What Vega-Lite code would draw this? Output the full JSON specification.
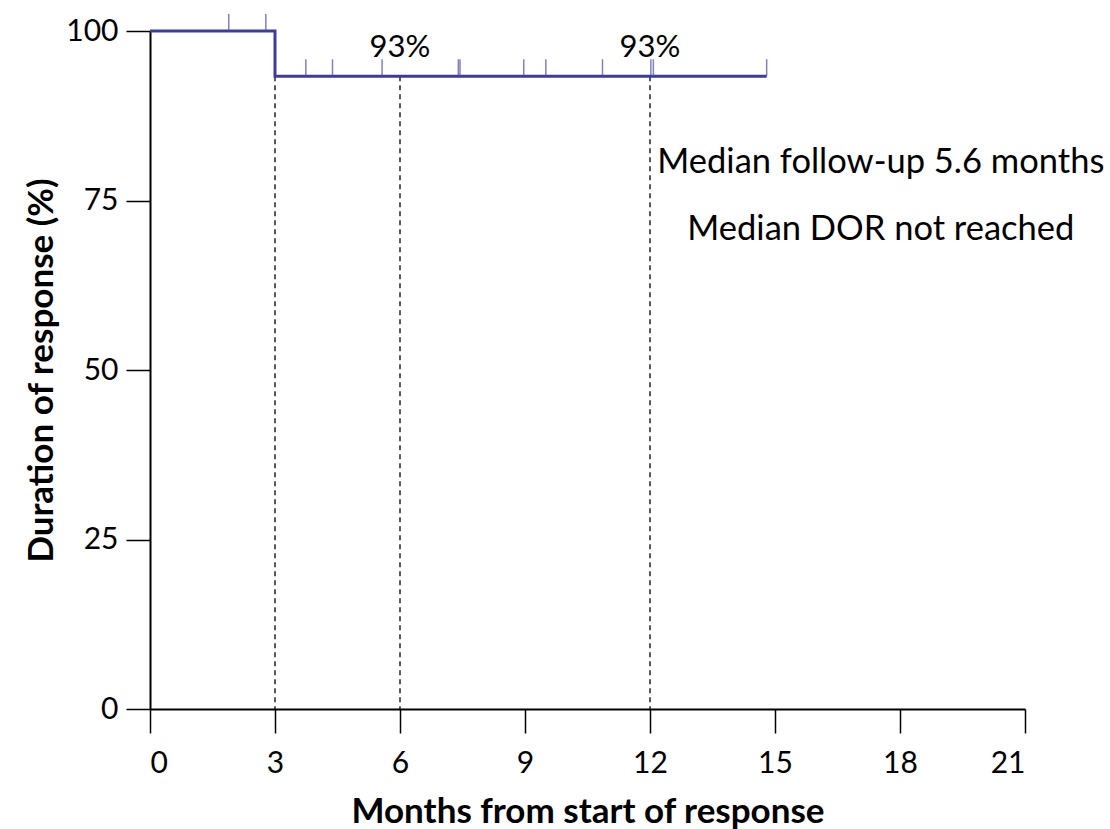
{
  "$schema": "https://vega.github.io/schema/vega-lite/v6.json",
  "width": 875,
  "height": 678,
  "autosize": {"type": "none"},
  "padding": {"left": 150, "top": 31, "right": 85, "bottom": 120},
  "background": "white",
  "config": {
    "view": {"stroke": null},
    "font": "Lato",
    "axis": {
      "grid": false,
      "domainColor": "black",
      "domainWidth": 2,
      "tickColor": "black",
      "tickWidth": 1.5,
      "tickSize": 24,
      "labelFont": "Lato",
      "labelFontSize": 30,
      "labelColor": "black",
      "titleFont": "Lato",
      "titleFontSize": 35,
      "titleFontWeight": "bold",
      "titleColor": "black"
    }
  },
  "datasets": {
    "km": [
      {"t": 0, "s": 100},
      {"t": 3, "s": 93.33},
      {"t": 14.8, "s": 93.33}
    ],
    "censor": [
      {"t": 1.89, "s": 100},
      {"t": 2.78, "s": 100},
      {"t": 3.74, "s": 93.33},
      {"t": 4.38, "s": 93.33},
      {"t": 5.57, "s": 93.33},
      {"t": 7.40, "s": 93.33},
      {"t": 7.44, "s": 93.33},
      {"t": 8.97, "s": 93.33},
      {"t": 9.50, "s": 93.33},
      {"t": 10.86, "s": 93.33},
      {"t": 12.02, "s": 93.33},
      {"t": 12.08, "s": 93.33},
      {"t": 14.8, "s": 93.33}
    ],
    "refs": [
      {"t": 3, "s": 93.33},
      {"t": 6, "s": 93.33},
      {"t": 12, "s": 93.33}
    ],
    "pct": [
      {"t": 6, "s": 93.33, "label": "93%"},
      {"t": 12, "s": 93.33, "label": "93%"}
    ],
    "notes": [
      {"t": 17.54, "s": 80.5, "label": "Median follow-up 5.6 months"},
      {"t": 17.54, "s": 70.6, "label": "Median DOR not reached"}
    ]
  },
  "layer": [
    {
      "data": {"name": "refs"},
      "mark": {"type": "rule", "color": "black", "strokeWidth": 1.3, "strokeDash": [5, 4]},
      "encoding": {
        "x": {"field": "t", "type": "quantitative", "scale": {"domain": [0, 21], "nice": false},
              "axis": {"values": [0, 3, 6, 9, 12, 15, 18, 21], "title": "Months from start of response", "labelPadding": 15, "titlePadding": 16}},
        "y": {"field": "s", "type": "quantitative", "scale": {"domain": [0, 100], "nice": false},
              "axis": {"values": [0, 25, 50, 75, 100], "title": "Duration of response (%)", "labelPadding": 8, "titlePadding": 6}},
        "y2": {"datum": 0}
      }
    },
    {
      "data": {"name": "km"},
      "mark": {"type": "line", "interpolate": "step-after", "color": "#3c3c9e", "strokeWidth": 3, "clip": false},
      "encoding": {
        "x": {"field": "t", "type": "quantitative"},
        "y": {"field": "s", "type": "quantitative"}
      }
    },
    {
      "data": {"name": "censor"},
      "mark": {"type": "tick", "orient": "vertical", "color": "#4a4aa6", "size": 17, "thickness": 1.5, "yOffset": -8.5, "clip": false},
      "encoding": {
        "x": {"field": "t", "type": "quantitative"},
        "y": {"field": "s", "type": "quantitative"}
      }
    },
    {
      "data": {"name": "pct"},
      "mark": {"type": "text", "fontSize": 31, "font": "Lato", "color": "black", "align": "center", "baseline": "alphabetic", "dy": -19},
      "encoding": {
        "x": {"field": "t", "type": "quantitative"},
        "y": {"field": "s", "type": "quantitative"},
        "text": {"field": "label"}
      }
    },
    {
      "data": {"name": "notes"},
      "mark": {"type": "text", "fontSize": 34.5, "font": "Lato", "color": "black", "align": "center", "baseline": "middle", "clip": false},
      "encoding": {
        "x": {"field": "t", "type": "quantitative"},
        "y": {"field": "s", "type": "quantitative"},
        "text": {"field": "label"}
      }
    }
  ]
}
